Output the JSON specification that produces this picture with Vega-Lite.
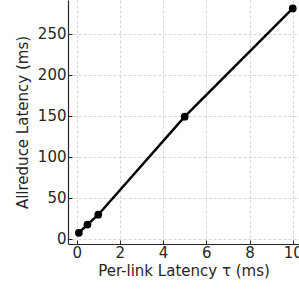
{
  "$schema": "https://vega.github.io/schema/vega-lite/v6.json",
  "autosize": "none",
  "width": 231,
  "height": 244,
  "padding": {"left": 68, "top": 0, "right": 0, "bottom": 45},
  "background": "white",
  "config": {
    "view": {"stroke": null},
    "font": "DejaVu Sans",
    "axis": {
      "labelFont": "DejaVu Sans",
      "titleFont": "DejaVu Sans",
      "labelFontSize": 15,
      "titleFontSize": 15,
      "labelColor": "#262626",
      "titleColor": "#262626",
      "titleFontWeight": "normal",
      "domainColor": "#262626",
      "domainWidth": 1.2,
      "tickColor": "#262626",
      "tickSize": -4,
      "gridColor": "#cccccc",
      "gridDash": [3, 2],
      "gridWidth": 0.8
    }
  },
  "data": {
    "values": [
      {"tau": 0.1, "latency": 7.5},
      {"tau": 0.5, "latency": 17.5},
      {"tau": 1, "latency": 29.5},
      {"tau": 5, "latency": 149},
      {"tau": 10, "latency": 281}
    ]
  },
  "encoding": {
    "x": {
      "field": "tau",
      "type": "quantitative",
      "scale": {"domain": [-0.4, 10.29], "nice": false, "zero": false},
      "axis": {"values": [0, 2, 4, 6, 8, 10], "title": "Per-link Latency τ (ms)", "labelPadding": 5, "titlePadding": 3, "labelFlush": false}
    },
    "y": {
      "field": "latency",
      "type": "quantitative",
      "scale": {"domain": [-6.2, 291.3], "nice": false, "zero": false},
      "axis": {"values": [0, 50, 100, 150, 200, 250], "title": "Allreduce Latency (ms)", "labelPadding": 6, "titlePadding": 7, "labelFlush": false}
    }
  },
  "layer": [
    {"mark": {"type": "line", "color": "black", "strokeWidth": 2.5}},
    {"mark": {"type": "point", "filled": true, "color": "black", "opacity": 1, "size": 60}}
  ]
}
